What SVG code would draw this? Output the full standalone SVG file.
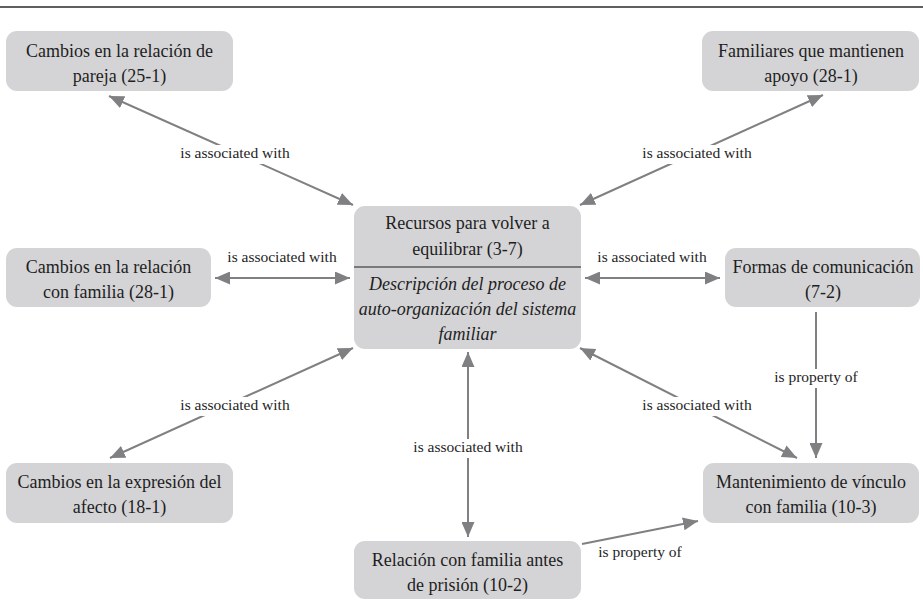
<svg xmlns="http://www.w3.org/2000/svg" width="923" height="600" viewBox="0 0 923 600" font-family="Liberation Serif, DejaVu Serif, serif">
<style>
.node rect{fill:#d4d4d6;}
.nt{font-size:18px;fill:#1e1e1e;text-anchor:middle;}
.it{font-style:italic;}
.edge{stroke:#808083;stroke-width:2;fill:none;}
.lbg{fill:#ffffff;}
.lt{font-size:15.5px;fill:#1e1e1e;text-anchor:middle;}
</style>
<defs>
<marker id="ah" markerUnits="userSpaceOnUse" markerWidth="16" markerHeight="13" refX="15" refY="6.5" orient="auto-start-reverse">
<path d="M0,0 L15,6.5 L0,13 z" fill="#808083"/>
</marker>
</defs>
<rect x="0" y="0" width="923" height="600" fill="#ffffff"/>
<line x1="0" y1="7" x2="923" y2="7" stroke="#2a2a2a" stroke-width="1.5"/>

<g id="connectors">
<line class="edge" x1="109" y1="96" x2="353" y2="205" marker-start="url(#ah)" marker-end="url(#ah)"/>
<line class="edge" x1="823" y1="95" x2="580" y2="205" marker-start="url(#ah)" marker-end="url(#ah)"/>
<line class="edge" x1="215" y1="278" x2="350" y2="278" marker-start="url(#ah)" marker-end="url(#ah)"/>
<line class="edge" x1="585" y1="278" x2="720" y2="278" marker-start="url(#ah)" marker-end="url(#ah)"/>
<line class="edge" x1="110" y1="458" x2="353" y2="348" marker-start="url(#ah)" marker-end="url(#ah)"/>
<line class="edge" x1="580" y1="348" x2="797" y2="458" marker-start="url(#ah)" marker-end="url(#ah)"/>
<line class="edge" x1="468" y1="352" x2="468" y2="537" marker-start="url(#ah)" marker-end="url(#ah)"/>
<line class="edge" x1="816" y1="312" x2="816" y2="458" marker-end="url(#ah)"/>
<line class="edge" x1="582" y1="544" x2="698" y2="521" marker-end="url(#ah)"/>

<rect class="lbg" x="179" y="145" width="112" height="19"/>
<text class="lt" x="235" y="158">is associated with</text>
<rect class="lbg" x="641" y="145" width="112" height="19"/>
<text class="lt" x="697" y="158">is associated with</text>
<text class="lt" x="282" y="262">is associated with</text>
<text class="lt" x="652" y="262">is associated with</text>
<rect class="lbg" x="179" y="397" width="112" height="19"/>
<text class="lt" x="235" y="410">is associated with</text>
<rect class="lbg" x="641" y="397" width="112" height="19"/>
<text class="lt" x="697" y="410">is associated with</text>
<rect class="lbg" x="412" y="439" width="112" height="19"/>
<text class="lt" x="468" y="452">is associated with</text>
<rect class="lbg" x="774" y="369" width="84" height="19"/>
<text class="lt" x="816" y="382">is property of</text>
<text class="lt" x="640" y="557">is property of</text>
</g>

<g id="n-pareja" class="node">
<rect x="6" y="31" width="227" height="60" rx="11"/>
<text class="nt" x="119.5" y="57">Cambios en la relación de</text>
<text class="nt" x="119.5" y="82">pareja (25-1)</text>
</g>
<g id="n-familiares" class="node">
<rect x="702" y="31" width="217" height="60" rx="11"/>
<text class="nt" x="811" y="57">Familiares que mantienen</text>
<text class="nt" x="811" y="82">apoyo (28-1)</text>
</g>
<g id="n-recursos" class="node">
<rect x="354" y="206" width="227" height="143" rx="11"/>
<text class="nt" x="467.5" y="229">Recursos para volver a</text>
<text class="nt" x="467.5" y="255">equilibrar (3-7)</text>
<line x1="354" y1="267" x2="581" y2="267" stroke="#1e1e1e" stroke-width="1.2"/>
<text class="nt it" x="467.5" y="290">Descripción del proceso de</text>
<text class="nt it" x="467.5" y="315">auto-organización del sistema</text>
<text class="nt it" x="467.5" y="340">familiar</text>
</g>
<g id="n-familia" class="node">
<rect x="6" y="248" width="205" height="59" rx="11"/>
<text class="nt" x="108.5" y="273">Cambios en la relación</text>
<text class="nt" x="108.5" y="298">con familia (28-1)</text>
</g>
<g id="n-formas" class="node">
<rect x="725" y="248" width="195" height="59" rx="11"/>
<text class="nt" x="823" y="273">Formas de comunicación</text>
<text class="nt" x="823" y="298">(7-2)</text>
</g>
<g id="n-afecto" class="node">
<rect x="6" y="463" width="227" height="60" rx="11"/>
<text class="nt" x="119.5" y="488">Cambios en la expresión del</text>
<text class="nt" x="119.5" y="513">afecto (18-1)</text>
</g>
<g id="n-mantenimiento" class="node">
<rect x="703" y="463" width="216" height="60" rx="11"/>
<text class="nt" x="811" y="488">Mantenimiento de vínculo</text>
<text class="nt" x="811" y="513">con familia (10-3)</text>
</g>
<g id="n-relacion" class="node">
<rect x="354" y="541" width="227" height="58" rx="11"/>
<text class="nt" x="467.5" y="566">Relación con familia antes</text>
<text class="nt" x="467.5" y="591">de prisión (10-2)</text>
</g>
</svg>
